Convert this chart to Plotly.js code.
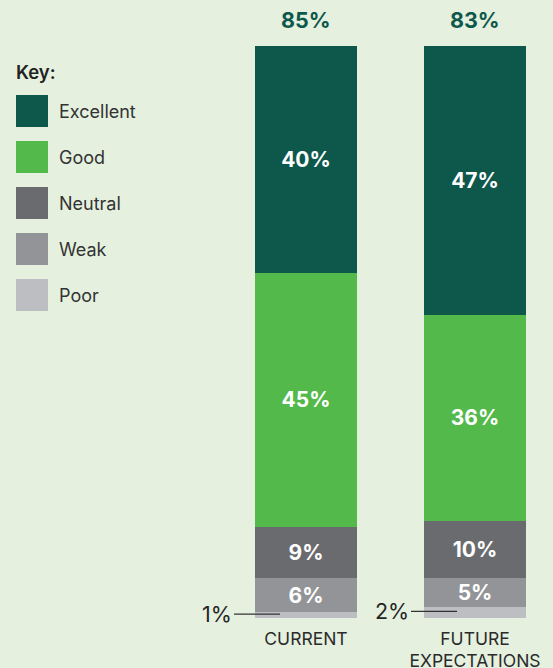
<!DOCTYPE html>
<html>
<head>
<meta charset="utf-8">
<script src="https://cdn.plot.ly/plotly-3.0.1.min.js"></script>
<style>
html,body{margin:0;padding:0;background:#e5f0df;}
#chart{width:553px;height:668px;}
</style>
</head>
<body>
<div id="chart"></div>
<script>
// ---- data ----
const categories = ['CURRENT', 'FUTURE<br>EXPECTATIONS'];
const seriesNames = ['Excellent', 'Good', 'Neutral', 'Weak', 'Poor'];
const excellent = [40, 47];
const good = [45, 36];
const neutral = [9, 10];
const weak = [6, 5];
const poor = [1, 2];
const seriesColors = ['#0e584b', '#52b94a', '#6a6b6f', '#939497', '#bdbec1'];

const seriesValues = [excellent, good, neutral, weak, poor];

// ---- layout geometry (pixels) ----
const W = 553, H = 668;
const M = {l: 200, r: 0, t: 46, b: 50};
const plotW = W - M.l - M.r, plotH = H - M.t - M.b;
const unitPx = 169;                 // px between category centres
const firstCenter = 306;            // px of first category centre
const xr0 = -(firstCenter - M.l) / unitPx;
const xr1 = xr0 + plotW / unitPx;
const barWidth = 102 / unitPx;

const px2x = p => (p - M.l) / plotW;
const px2y = p => (H - M.b - p) / plotH;

const BG = '#e5f0df';
const FONT = 'Inter, "Noto Sans", sans-serif';

// ---- traces (bottom to top) ----
const traces = [];
for (let k = seriesNames.length - 1; k >= 0; k--) {
  const vals = seriesValues[k];
  const isPoor = seriesNames[k] === 'Poor';
  traces.push({
    type: 'bar',
    name: seriesNames[k],
    x: categories,
    y: vals,
    width: barWidth,
    marker: {color: seriesColors[k], line: {width: 0}},
    text: vals.map(v => isPoor ? '' : v + '%'),
    textposition: isPoor ? 'none' : 'inside',
    insidetextanchor: 'middle',
    textangle: 0,
    constraintext: 'none',
    textfont: {family: FONT, size: 21, color: '#ffffff', weight: 700},
    hoverinfo: 'skip',
    showlegend: false
  });
}

const totals = categories.map((c, i) => seriesValues.reduce((s, a) => s + a[i], 0));

const annotations = [];
const shapes = [];

// totals on top (Excellent + Good)
categories.forEach((c, i) => {
  annotations.push({
    x: i, y: 100, xref: 'x', yref: 'y',
    text: '<b>' + (excellent[i] + good[i]) + '%</b>',
    showarrow: false, yanchor: 'bottom', yshift: 11,
    font: {family: FONT, size: 21.5, color: '#0e584b'}
  });
});

// Poor call-outs
const poorTipShift = [-26, -18];
categories.forEach((c, i) => {
  const yMid = (poor[i] / 2) / totals[i] * 100;
  annotations.push({
    x: i, y: yMid, xref: 'x', yref: 'y',
    xshift: poorTipShift[i], yshift: 1,
    text: poor[i] + '%',
    showarrow: true, arrowhead: 0, arrowwidth: 1.3, arrowcolor: '#333333',
    ax: -46, ay: 0, xanchor: 'right', yanchor: 'middle',
    standoff: 0, startstandoff: 0,
    font: {family: FONT, size: 21.5, color: '#262626'}
  });
});

// Key
annotations.push({
  x: px2x(14), y: px2y(72), xref: 'paper', yref: 'paper',
  text: 'Key:', showarrow: false, xanchor: 'left', yanchor: 'middle',
  font: {family: FONT, size: 18.5, color: '#222222', weight: 600}
});
seriesNames.forEach((n, k) => {
  const top = 95 + 46 * k;
  shapes.push({
    type: 'rect', xref: 'paper', yref: 'paper',
    x0: px2x(16), x1: px2x(48), y0: px2y(top + 32), y1: px2y(top),
    fillcolor: seriesColors[k], line: {width: 0}
  });
  annotations.push({
    x: px2x(57), y: px2y(top + 16), xref: 'paper', yref: 'paper',
    text: n, showarrow: false, xanchor: 'left', yanchor: 'middle',
    font: {family: FONT, size: 18, color: '#333333'}
  });
});

const layout = {
  width: W, height: H,
  margin: M,
  paper_bgcolor: BG, plot_bgcolor: BG,
  barmode: 'stack', barnorm: 'percent',
  showlegend: false,
  xaxis: {
    type: 'category', range: [xr0, xr1], fixedrange: true,
    showgrid: false, zeroline: false, showline: false, ticks: '',
    ticklabelstandoff: 8,
    tickfont: {family: FONT, size: 17.5, color: '#2a2a2a'}
  },
  yaxis: {
    range: [0, 100], showgrid: false, zeroline: false, showline: false,
    showticklabels: false, ticks: '', fixedrange: true
  },
  annotations: annotations,
  shapes: shapes,
  font: {family: FONT}
};

Plotly.newPlot('chart', traces, layout, {displayModeBar: false, staticPlot: true});
</script>
</body>
</html>
